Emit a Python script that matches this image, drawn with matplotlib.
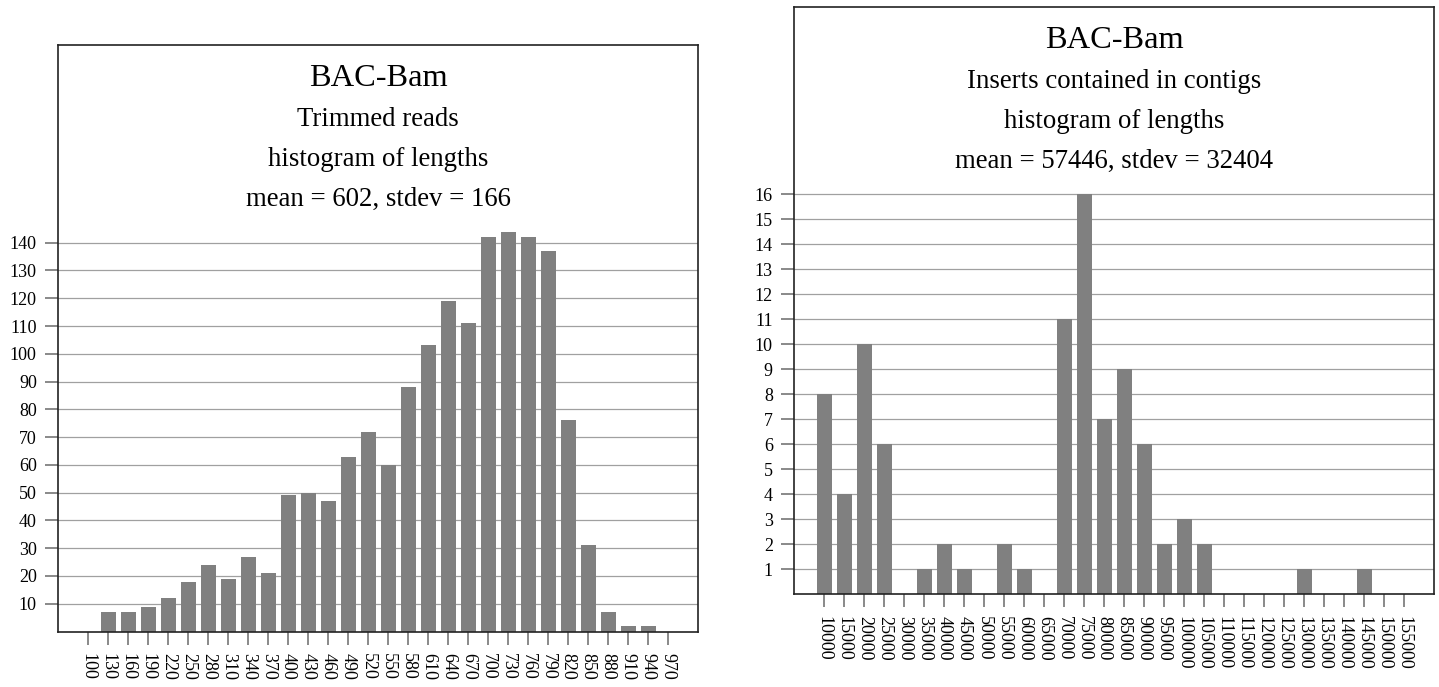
import matplotlib
matplotlib.use("Agg")
import matplotlib.pyplot as plt

plt.rcParams['font.family'] = ['Liberation Serif', 'DejaVu Serif']

# left chart: trimmed read lengths
read_bins = ["100", "130", "160", "190", "220", "250", "280", "310", "340", "370",
             "400", "430", "460", "490", "520", "550", "580", "610", "640", "670",
             "700", "730", "760", "790", "820", "850", "880", "910", "940", "970"]
read_counts = [0, 7, 7, 9, 12, 18, 24, 19, 27, 21,
               49, 50, 47, 63, 72, 60, 88, 103, 119, 111,
               142, 144, 142, 137, 76, 31, 7, 2, 2, 0]
read_yticks = list(range(10, 150, 10))
read_titles = ["BAC-Bam", "Trimmed reads", "histogram of lengths",
               "mean = 602, stdev = 166"]

# right chart: insert lengths
insert_bins = ["10000", "15000", "20000", "25000", "30000", "35000", "40000", "45000",
               "50000", "55000", "60000", "65000", "70000", "75000", "80000", "85000",
               "90000", "95000", "100000", "105000", "110000", "115000", "120000",
               "125000", "130000", "135000", "140000", "145000", "150000", "155000"]
insert_counts = [8, 4, 10, 6, 0, 1, 2, 1, 0, 2, 1, 0, 11, 16, 7, 9,
                 6, 2, 3, 2, 0, 0, 0, 0, 1, 0, 0, 1, 0, 0]
insert_yticks = list(range(1, 17))
insert_titles = ["BAC-Bam", "Inserts contained in contigs", "histogram of lengths",
                 "mean = 57446, stdev = 32404"]

W, H = 1439, 687
fig = plt.figure(figsize=(W / 100, H / 100), dpi=100)
fig.patch.set_facecolor('white')


def draw_hist(rect, labels, counts, yticks, ytop, titles):
    ax = fig.add_axes(rect)
    x = list(range(len(labels)))
    ax.set_axisbelow(True)
    ax.yaxis.grid(True, color='#a0a0a0', linewidth=0.9)
    ax.bar(x, counts, width=0.75, color='#808080', linewidth=0)
    ax.set_xlim(-1.5, len(labels) + 0.5)
    ax.set_ylim(0, ytop)
    ax.set_xticks(x)
    ax.set_xticklabels(labels, rotation=-90, fontsize=13)
    ax.set_yticks(yticks)
    ax.set_yticklabels([str(v) for v in yticks], fontsize=13)
    ax.tick_params(axis='both', direction='out', length=9.5, width=1.3,
                   color='#808080', pad=6)
    for s in ax.spines.values():
        s.set_color('#222222')
        s.set_linewidth(1.2)

    # stacked title lines inside the frame, 40 px apart
    h_px = rect[3] * H
    sizes = [23.3, 19.3, 19.3, 19.3]
    for i, (t, fs) in enumerate(zip(titles, sizes)):
        y = 1 - (41 + 40 * i) / h_px
        ax.text(0.5, y, t, transform=ax.transAxes, ha='center', va='baseline',
                fontsize=fs, color='black')
    return ax


draw_hist([58.3 / W, 55.5 / H, 640 / W, 586.5 / H],
          read_bins, read_counts, read_yticks, 211.2, read_titles)
draw_hist([794.3 / W, 93 / H, 640 / W, 586.7 / H],
          insert_bins, insert_counts, insert_yticks, 23.49, insert_titles)

fig.savefig("out.png", dpi=100)
